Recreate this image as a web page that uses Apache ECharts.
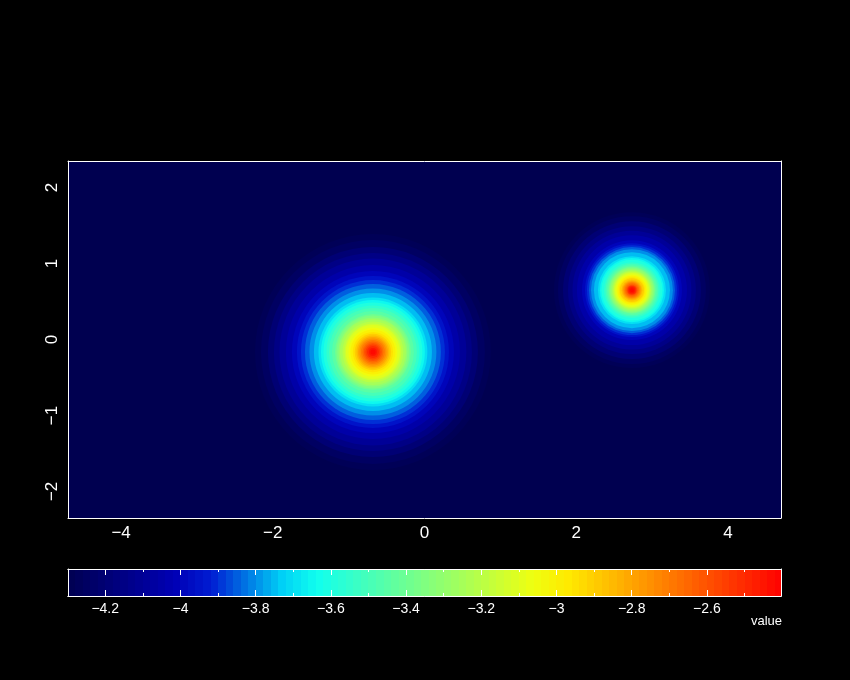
<!DOCTYPE html>
<html>
<head>
<meta charset="utf-8">
<style>html,body{margin:0;padding:0;background:#000}#c{width:850px;height:680px}</style>
<script src="https://cdn.jsdelivr.net/npm/echarts@6/dist/echarts.min.js"></script>
</head>
<body>
<div id="c"></div>
<script>
// Plot ticks
const xTicks = [-4, -2, 0, 2, 4];
const yTicks = [-2, -1, 0, 1, 2];
const barMajorTicks = [-4.2, -4, -3.8, -3.6, -3.4, -3.2, -3, -2.8, -2.6];
const barMinorTicks = [-4.1, -3.9, -3.7, -3.5, -3.3, -3.1, -2.9, -2.7, -2.5];

// Contour levels and their radii (data units)
const levels = [-4.28,-4.25,-4.2,-4.15,-4.1,-4.05,-4,-3.95,-3.9,-3.85,-3.8,-3.75,-3.7,-3.65,-3.6,-3.55,-3.5,-3.45,-3.4,-3.35,-3.3,-3.25,-3.2,-3.15,-3.1,-3.05,-3,-2.95,-2.9,-2.85,-2.8,-2.75,-2.7,-2.65,-2.6,-2.55,-2.5,-2.45,-2.42];
const leftCentre = [-0.68, -0.165];
const leftRadii = [1.555,1.476,1.384,1.305,1.232,1.147,1.068,1.002,.949,.896,.837,.778,.718,.685,.652,.613,.58,.54,.501,.481,.455,.435,.402,.375,.356,.323,.297,.265,.24,.217,.198,.178,.158,.138,.119,.099,.079,.053,.033];
const rightCentre = [2.735, 0.65];
const rightRadii = [1.028,.975,.909,.843,.784,.725,.659,.619,.593,.567,.54,.501,.448,.422,.402,.369,.349,.329,.31,.297,.283,.264,.25,.237,.224,.204,.191,.171,.158,.138,.125,.112,.099,.086,.072,.062,.053,.04,.026];

// Colour bar bands
const barBands = [-4.29,-4.27,-4.25,-4.23,-4.21,-4.19,-4.17,-4.15,-4.13,-4.11,-4.09,-4.07,-4.05,-4.03,-4.01,-3.99,-3.97,-3.95,-3.93,-3.91,-3.89,-3.87,-3.85,-3.83,-3.81,-3.79,-3.77,-3.75,-3.73,-3.71,-3.69,-3.67,-3.65,-3.63,-3.61,-3.59,-3.57,-3.55,-3.53,-3.51,-3.49,-3.47,-3.45,-3.43,-3.41,-3.39,-3.37,-3.35,-3.33,-3.31,-3.29,-3.27,-3.25,-3.23,-3.21,-3.19,-3.17,-3.15,-3.13,-3.11,-3.09,-3.07,-3.05,-3.03,-3.01,-2.99,-2.97,-2.95,-2.93,-2.91,-2.89,-2.87,-2.85,-2.83,-2.81,-2.79,-2.77,-2.75,-2.73,-2.71,-2.69,-2.67,-2.65,-2.63,-2.61,-2.59,-2.57,-2.55,-2.53,-2.51,-2.49,-2.47,-2.45,-2.43,-2.41];

const palette = ['#000050','#000072','#000093','#0000b5','#001cd2','#0076e4','#00d0f6','#11ffee','#36ffc9','#5bffa4','#80ff80','#a4ff5b','#c9ff36','#eeff11','#ffea00','#ffc300','#ff9c00','#ff7500','#ff4e00','#ff2700','#ff0000'];

const FONT = '"Liberation Sans"';
const fmt = v => String(v).replace('-', '\u2212');
const white = { color: '#fff', width: 1 };

function ringItem(params, api) {
  const c = api.coord([api.value(0), api.value(1)]);
  const s = api.size([api.value(2), api.value(2)]);
  return { type: 'circle', shape: { cx: c[0], cy: c[1], r: s[0] },
           style: { fill: api.visual('color') } };
}
function bandItem(params, api) {
  const a = api.coord([api.value(0) - 0.01, 1]);
  const b = api.coord([api.value(0) + 0.01, 0]);
  const x0 = Math.round(a[0]), x1 = Math.round(b[0]);
  return { type: 'rect', shape: { x: x0, y: a[1], width: x1 - x0, height: b[1] - a[1] },
           style: { fill: api.visual('color') } };
}
const rings = (centre, radii) => radii.map((r, i) => [centre[0], centre[1], r, levels[i]]);
const barAxis = (position, values, len, labels) => ({
  type: 'value', gridIndex: 1, min: -4.299, max: -2.403, position, z: 5,
  axisLine: { show: true, onZero: false, lineStyle: white },
  axisTick: { show: true, inside: true, length: len, customValues: values, lineStyle: white },
  splitLine: { show: false },
  axisLabel: labels
    ? { show: true, customValues: values, formatter: fmt, color: '#fff', fontFamily: FONT, fontSize: 14, margin: 6 }
    : { show: false }
});
const plotX = (position, labels) => ({
  type: 'value', gridIndex: 0, min: -4.7, max: 4.7, position, z: 5, splitLine: { show: false },
  axisLine: { show: true, onZero: false, lineStyle: white }, axisTick: { show: false },
  axisLabel: labels ? { customValues: xTicks, formatter: fmt, color: '#fff', fontFamily: FONT, fontSize: 17, margin: 7 } : { show: false }
});
const plotY = (position, labels) => ({
  type: 'value', gridIndex: 0, min: -2.35, max: 2.35, position, z: 5, splitLine: { show: false },
  axisLine: { show: true, onZero: false, lineStyle: white }, axisTick: { show: false },
  axisLabel: labels ? { customValues: yTicks, formatter: fmt, color: '#fff', fontFamily: FONT, fontSize: 17, rotate: 90, margin: 7 } : { show: false }
});
const barY = position => ({
  type: 'value', gridIndex: 1, min: 0, max: 1, position, z: 5, splitLine: { show: false }, axisTick: { show: false }, axisLabel: { show: false },
  axisLine: { show: true, onZero: false, lineStyle: white }
});

const chart = echarts.init(document.getElementById('c'), null, { renderer: 'canvas' });
chart.setOption({
  backgroundColor: '#000',
  animation: false,
  grid: [
    { left: 68, top: 161, width: 713, height: 357, show: true, backgroundColor: '#000050', borderWidth: 0 },
    { left: 68, top: 569, width: 713, height: 27 }
  ],
  xAxis: [
    plotX('bottom', true),
    plotX('top', false),
    barAxis('bottom', barMajorTicks, 6, true),
    barAxis('bottom', barMinorTicks, 3, false),
    barAxis('top', barMajorTicks, 6, false),
    barAxis('top', barMinorTicks, 3, false)
  ],
  yAxis: [ plotY('left', true), plotY('right', false), barY('left'), barY('right') ],
  visualMap: { show: false, type: 'continuous', min: -4.3, max: -2.4, dimension: 3, seriesIndex: [0, 1, 2], inRange: { color: palette } },
  series: [
    { type: 'custom', name: 'left peak', xAxisIndex: 0, yAxisIndex: 0, clip: true, renderItem: ringItem, encode: { x: 0, y: 1 }, data: rings(leftCentre, leftRadii) },
    { type: 'custom', name: 'right peak', xAxisIndex: 0, yAxisIndex: 0, clip: true, renderItem: ringItem, encode: { x: 0, y: 1 }, data: rings(rightCentre, rightRadii) },
    { type: 'custom', name: 'colour bar', xAxisIndex: 2, yAxisIndex: 2, clip: true, renderItem: bandItem, encode: { x: 0, y: 1 }, data: barBands.map(v => [v, 0, 0, v]) }
  ],
  graphic: [{ type: 'text', x: 782, y: 621, z: 10, style: { text: 'value', fill: '#fff', font: '13px ' + FONT, textAlign: 'right', textVerticalAlign: 'middle' } }]
});
</script>
</body>
</html>
